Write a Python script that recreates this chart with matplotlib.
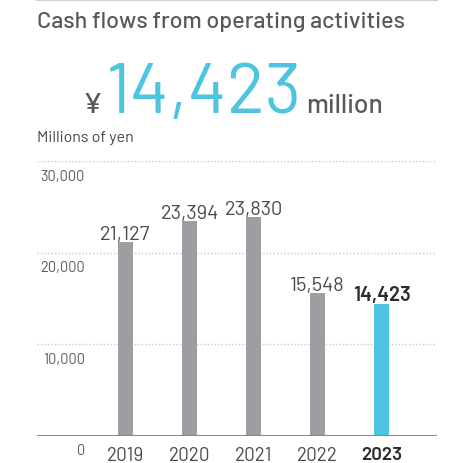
import matplotlib.pyplot as plt

years = ['2019', '2020', '2021', '2022', '2023']
values = [21127, 23394, 23830, 15548, 14423]
ytick_values = [0, 10000, 20000, 30000]
ytick_labels = ['0', '10,000', '20,000', '30,000']

font = 'Barlow'

grey_bar = '#9d9ea2'
cyan = '#4ec5e0'
text_grey = '#58595b'
dark = '#2b2b2b'

W, H = 449, 464
fig = plt.figure(figsize=(W / 100, H / 100), dpi=100)

# top rule
fig.add_artist(plt.Line2D([37 / W, 437 / W], [1 - 1 / H, 1 - 1 / H], color='#d0d0d0', lw=1.5))

fig.text(37 / W, 1 - 27.5 / H, 'Cash flows from operating activities', fontsize=16.8,
         family=font, weight='medium', color=text_grey, va='baseline')
fig.text(103 / W, 1 - 113 / H, '¥', fontsize=21, family=font, weight='medium',
         color=text_grey, ha='right', va='baseline')
fig.text(106 / W, 1 - 113 / H, '14,423', fontsize=51, family=font, color=cyan,
         ha='left', va='baseline')
fig.text(306 / W, 1 - 113 / H, 'million', fontsize=19, family=font, weight='medium',
         color=text_grey, ha='left', va='baseline')
fig.text(37 / W, 1 - 142 / H, 'Millions of yen', fontsize=11.5, family=font,
         color='#444444', ha='left', va='baseline')

ax = fig.add_axes([37 / W, (H - 436.5) / H, 400 / W, 274.5 / H])
x = list(range(len(years)))
colors = [grey_bar] * (len(years) - 1) + [cyan]
ax.bar(x, values, width=0.234, color=colors, zorder=2)

ax.set_xlim(-1.383, 4.867)
ax.set_ylim(0, 30000)
for v in ytick_values[1:]:
    ax.axhline(v, xmax=0.995, color='#c8c8c8', lw=1, ls=(0, (1, 1.5)), zorder=1)
ax.axhline(0, color='#8a8a8a', lw=1.5, zorder=3)

for v, lab in zip(ytick_values, ytick_labels):
    ax.annotate(lab, (-0.633, v), xytext=(0, -5.5), textcoords='offset points',
                ha='right', va='top', fontsize=10.5, family=font,
                color='#5a5a5a')

for i, (yr, v) in enumerate(zip(years, values)):
    last = i == len(years) - 1
    ax.annotate(f'{v:,}', (i, v), xytext=(0, 2.5), textcoords='offset points',
                ha='center', va='baseline', fontsize=14.5, family=font,
                weight='semibold' if last else 'normal', color=dark if last else '#4a4a4a')
    ax.annotate(yr, (i, 0), xytext=(0, -7.5), textcoords='offset points',
                ha='center', va='top', fontsize=13.5, family=font,
                weight='semibold' if last else 'normal', color=dark if last else '#4a4a4a')

ax.axis('off')

fig.savefig('out.png', dpi=100)
